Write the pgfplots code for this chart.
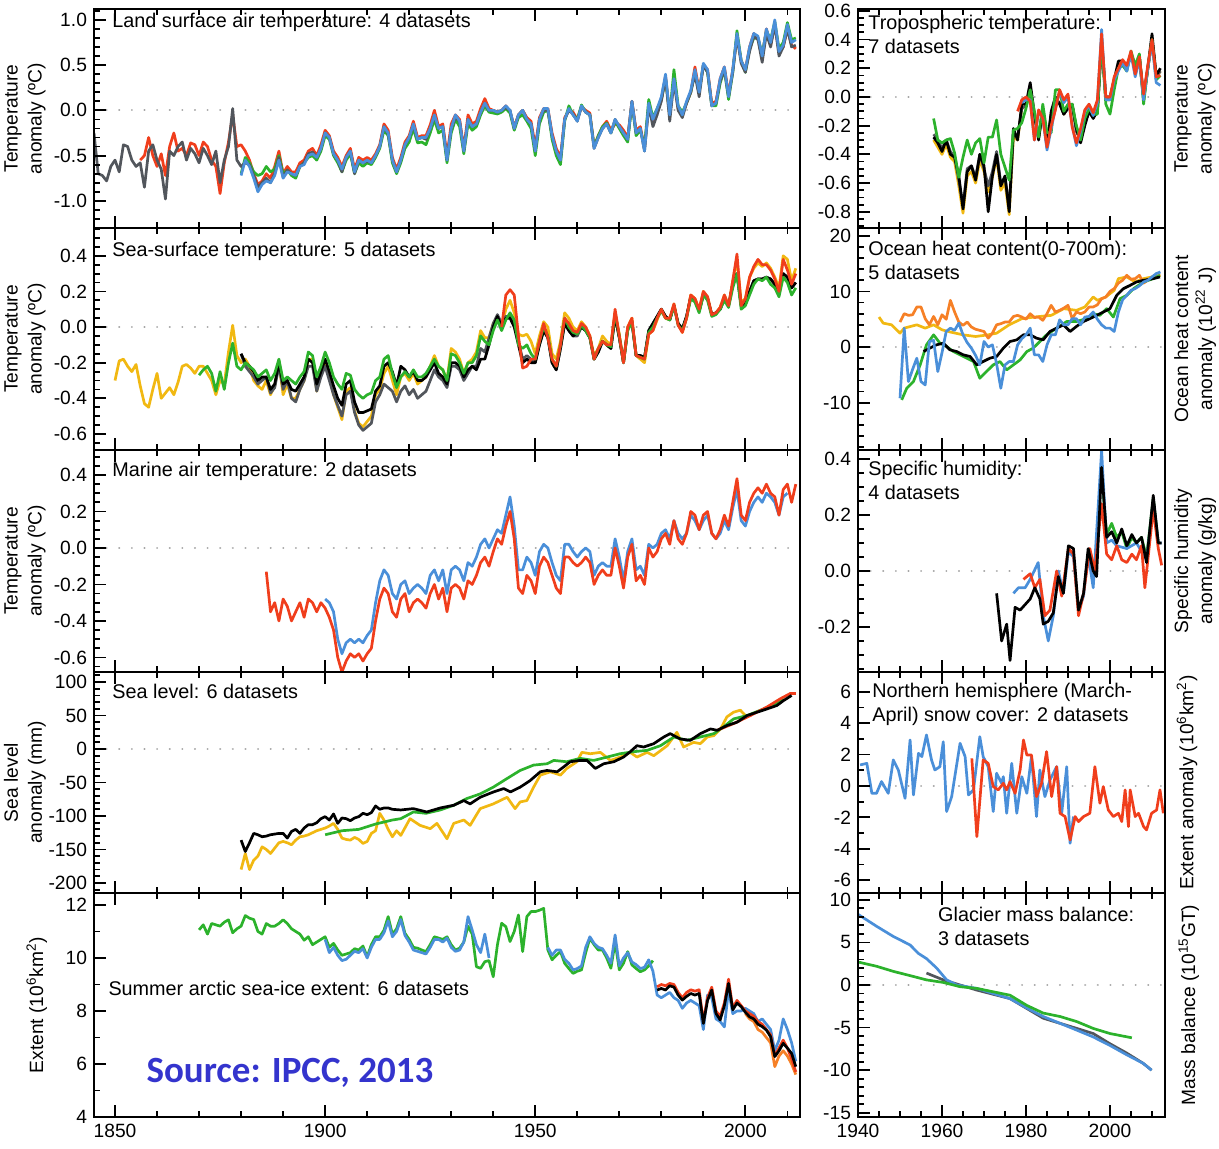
\documentclass[border=0pt]{standalone}
\usepackage{fontspec}
\setmainfont{Liberation Sans}
\newfontfamily\calibri{Carlito}
\usepackage{pgfplots}
\usepackage{pgfplotstable}
\pgfplotsset{compat=1.18}

\definecolor{sred}{RGB}{240,62,28}
\definecolor{sblue}{RGB}{74,143,217}
\definecolor{sgreen}{RGB}{44,178,44}
\definecolor{syellow}{RGB}{241,184,18}
\definecolor{sgray}{RGB}{82,86,92}
\definecolor{sorange}{RGB}{246,128,38}
\definecolor{srcblue}{RGB}{52,52,205}

\newcommand{\fs}{\fontsize{9.6}{12}\selectfont}
\newcommand{\ft}{\fontsize{9.9}{12}\selectfont}

\tikzset{ttl/.style={inner sep=0pt, font=\ft, align=left}}

\pgfplotsset{
  base/.style={
    scale only axis, axis on top,
    axis line style={line width=1.4pt},
    every tick/.style={black, line width=0.9pt},
    major tick length=6pt, minor tick length=3pt,
    tick align=inside, ytick pos=left, xtick pos=both,
    tick label style={font=\fs},
    label style={font=\fs},
    ylabel style={align=center, anchor=center},
    unbounded coords=jump,
    every axis plot/.append style={line width=1.35pt, line join=round},
  },
  leftp/.style={base, width=353pt, xmin=1845, xmax=2013,
    xtick={1850,1900,1950,2000}, minor xtick={1860,1870,...,2010}, xticklabels={,,,},
    ylabel style={at={(axis description cs:-0.0977,0.5)}}},
  rightp/.style={base, width=153.5pt, xmin=1940, xmax=2013.1,
    xtick={1940,1960,1980,2000}, minor xtick={1945,1950,...,2010}, xticklabels={,,,},
    ylabel style={at={(axis description cs:1.098,0.5)}}},
  zl/.style={gray!70, line width=1.1pt, line cap=round, dash pattern=on 0.01pt off 6.3pt},
}

% Land surface air temperature: yr, blue, green, red, grey
\pgfplotstableread{
yr B G R K
1845 nan nan nan -0.25
1846 nan nan nan -0.70
1847 nan nan nan -0.72
1848 nan nan nan -0.78
1849 nan nan nan -0.62
1850 nan nan nan -0.55
1851 nan nan nan -0.68
1852 nan nan nan -0.38
1853 nan nan nan -0.40
1854 nan nan nan -0.55
1855 nan nan nan -0.62
1856 nan nan -0.55 -0.58
1857 nan nan -0.50 -0.85
1858 nan nan -0.30 -0.45
1859 nan nan -0.50 -0.38
1860 nan nan -0.62 -0.55
1861 nan nan -0.48 -0.65
1862 nan nan -0.72 -0.98
1863 nan nan -0.40 -0.45
1864 nan nan -0.25 -0.50
1865 nan nan -0.45 -0.40
1866 nan nan -0.42 -0.35
1867 nan nan -0.50 -0.55
1868 nan nan -0.36 -0.42
1869 nan nan -0.38 -0.48
1870 nan nan -0.50 -0.58
1871 nan nan -0.35 -0.42
1872 nan nan -0.40 -0.50
1873 nan nan -0.55 -0.60
1874 nan nan -0.62 -0.45
1875 nan nan -0.92 -0.80
1876 nan nan -0.58 -0.55
1877 nan nan -0.35 -0.40
1878 nan nan -0.05 0.02
1879 nan nan -0.40 -0.55
1880 -0.72 -0.70 -0.38 -0.62
1881 -0.55 -0.52 -0.45 -0.58
1882 -0.62 -0.58 -0.55 -0.60
1883 -0.75 -0.68 -0.70 -0.72
1884 -0.90 -0.72 -0.82 -0.85
1885 -0.82 -0.70 -0.78 -0.80
1886 -0.78 -0.62 -0.70 -0.75
1887 -0.80 -0.68 -0.75 -0.80
1888 -0.72 -0.65 -0.62 -0.70
1889 -0.55 -0.50 -0.45 -0.52
1890 -0.75 -0.70 -0.70 -0.74
1891 -0.68 -0.66 -0.62 -0.66
1892 -0.70 -0.72 -0.68 -0.70
1893 -0.72 -0.75 -0.68 -0.72
1894 -0.62 -0.62 -0.58 -0.62
1895 -0.60 -0.58 -0.55 -0.58
1896 -0.50 -0.52 -0.45 -0.48
1897 -0.48 -0.50 -0.42 -0.46
1898 -0.52 -0.55 -0.50 -0.52
1899 -0.42 -0.45 -0.38 -0.42
1900 -0.25 -0.28 -0.22 -0.25
1901 -0.30 -0.32 -0.28 -0.30
1902 -0.48 -0.50 -0.45 -0.48
1903 -0.55 -0.58 -0.52 -0.55
1904 -0.65 -0.68 -0.62 -0.68
1905 -0.52 -0.55 -0.50 -0.52
1906 -0.45 -0.48 -0.42 -0.45
1907 -0.68 -0.70 -0.65 -0.70
1908 -0.55 -0.58 -0.52 -0.55
1909 -0.58 -0.62 -0.55 -0.58
1910 -0.55 -0.58 -0.52 -0.56
1911 -0.58 -0.60 -0.55 -0.58
1912 -0.50 -0.52 -0.48 -0.50
1913 -0.40 -0.42 -0.38 -0.40
1914 -0.18 -0.22 -0.15 -0.18
1915 -0.25 -0.28 -0.22 -0.26
1916 -0.55 -0.58 -0.52 -0.55
1917 -0.68 -0.70 -0.65 -0.68
1918 -0.55 -0.58 -0.52 -0.55
1919 -0.38 -0.42 -0.35 -0.38
1920 -0.30 -0.35 -0.28 -0.30
1921 -0.15 -0.20 -0.12 -0.16
1922 -0.32 -0.36 -0.30 -0.32
1923 -0.30 -0.35 -0.28 -0.30
1924 -0.30 -0.38 -0.28 -0.32
1925 -0.20 -0.25 -0.16 -0.20
1926 -0.05 -0.10 0.00 -0.06
1927 -0.20 -0.25 -0.18 -0.20
1928 -0.18 -0.22 -0.15 -0.18
1929 -0.55 -0.58 -0.50 -0.55
1930 -0.20 -0.25 -0.15 -0.20
1931 -0.05 -0.10 -0.05 -0.08
1932 -0.12 -0.18 -0.10 -0.12
1933 -0.45 -0.48 -0.42 -0.45
1934 -0.10 -0.15 -0.05 -0.10
1935 -0.18 -0.22 -0.15 -0.18
1936 -0.15 -0.18 -0.12 -0.15
1937 -0.02 -0.05 0.02 -0.02
1938 0.08 0.05 0.13 0.08
1939 0.00 -0.02 0.02 0.00
1940 0.00 -0.03 0.00 0.00
1941 -0.02 -0.04 -0.02 -0.02
1942 0.00 -0.02 0.00 0.00
1943 0.05 0.02 0.05 0.03
1944 0.00 -0.03 -0.02 0.00
1945 -0.20 -0.22 -0.18 -0.20
1946 -0.05 -0.08 -0.05 -0.05
1947 0.00 -0.05 0.00 0.00
1948 -0.10 -0.12 -0.08 -0.10
1949 -0.15 -0.20 -0.12 -0.15
1950 -0.45 -0.50 -0.40 -0.45
1951 -0.10 -0.15 -0.08 -0.10
1952 0.02 -0.02 0.02 0.00
1953 0.02 0.00 0.02 0.00
1954 -0.28 -0.32 -0.25 -0.28
1955 -0.45 -0.50 -0.42 -0.45
1956 -0.55 -0.60 -0.52 -0.55
1957 -0.10 -0.12 -0.08 -0.10
1958 0.02 0.05 0.00 0.00
1959 -0.05 -0.05 -0.02 -0.04
1960 -0.12 -0.10 -0.10 -0.12
1961 0.05 0.06 0.04 0.04
1962 -0.02 -0.02 0.00 -0.02
1963 -0.05 -0.05 -0.03 -0.05
1964 -0.42 -0.40 -0.40 -0.42
1965 -0.30 -0.28 -0.28 -0.30
1966 -0.20 -0.18 -0.18 -0.20
1967 -0.15 -0.14 -0.12 -0.15
1968 -0.25 -0.25 -0.22 -0.25
1969 -0.10 -0.12 -0.15 -0.10
1970 -0.18 -0.20 -0.16 -0.18
1971 -0.25 -0.28 -0.22 -0.25
1972 -0.32 -0.35 -0.30 -0.32
1973 0.10 0.08 0.10 0.10
1974 -0.25 -0.28 -0.22 -0.25
1975 -0.20 -0.22 -0.18 -0.20
1976 -0.45 -0.40 -0.42 -0.45
1977 0.08 0.12 0.05 0.05
1978 -0.10 -0.08 -0.12 -0.18
1979 0.02 0.02 0.00 -0.05
1980 0.15 0.12 0.12 0.10
1981 0.40 0.35 0.38 0.36
1982 -0.05 -0.05 -0.05 -0.12
1983 0.35 0.45 0.35 0.32
1984 0.05 0.05 0.02 0.00
1985 -0.05 -0.02 -0.05 -0.08
1986 0.10 0.08 0.08 0.08
1987 0.22 0.20 0.20 0.20
1988 0.45 0.42 0.48 0.40
1989 0.20 0.20 0.22 0.15
1990 0.52 0.50 0.50 0.50
1991 0.45 0.42 0.45 0.42
1992 0.05 0.05 0.08 0.05
1993 0.08 0.05 0.10 0.08
1994 0.35 0.30 0.35 0.32
1995 0.48 0.45 0.48 0.45
1996 0.15 0.12 0.18 0.15
1997 0.45 0.42 0.45 0.42
1998 0.85 0.88 0.82 0.82
1999 0.55 0.55 0.55 0.52
2000 0.45 0.42 0.45 0.42
2001 0.70 0.68 0.70 0.65
2002 0.85 0.80 0.85 0.82
2003 0.82 0.80 0.80 0.78
2004 0.60 0.62 0.60 0.53
2005 0.90 0.88 0.90 0.85
2006 0.75 0.78 0.72 0.70
2007 1.00 0.98 0.95 0.95
2008 0.65 0.68 0.65 0.60
2009 0.72 0.75 0.70 0.70
2010 0.95 0.97 0.90 0.90
2011 0.75 0.78 0.72 0.70
2012 0.78 0.80 0.68 0.72
}\landT

% Sea-surface temperature: yr, yellow, green, black, grey, red
\pgfplotstableread{
yr Y G K D R
1850 -0.30 nan nan nan nan
1851 -0.19 nan nan nan nan
1852 -0.18 nan nan nan nan
1853 -0.22 nan nan nan nan
1854 -0.25 nan nan nan nan
1855 -0.21 nan nan nan nan
1856 -0.33 nan nan nan nan
1857 -0.43 nan nan nan nan
1858 -0.45 nan nan nan nan
1859 -0.35 nan nan nan nan
1860 -0.26 nan nan nan nan
1861 -0.40 nan nan nan nan
1862 -0.37 nan nan nan nan
1863 -0.34 nan nan nan nan
1864 -0.38 nan nan nan nan
1865 -0.31 nan nan nan nan
1866 -0.22 nan nan nan nan
1867 -0.21 nan nan nan nan
1868 -0.23 nan nan nan nan
1869 -0.26 nan nan nan nan
1870 -0.22 -0.27 nan nan nan
1871 -0.22 -0.24 nan nan nan
1872 -0.26 -0.22 nan nan nan
1873 -0.30 -0.26 nan nan nan
1874 -0.38 -0.36 nan nan nan
1875 -0.30 -0.25 nan nan nan
1876 -0.32 -0.35 nan nan nan
1877 -0.14 -0.20 nan nan nan
1878 0.01 -0.09 nan nan nan
1879 -0.16 -0.22 nan nan nan
1880 -0.20 -0.24 -0.15 -0.15 nan
1881 -0.18 -0.20 -0.20 -0.22 nan
1882 -0.22 -0.22 -0.22 -0.25 nan
1883 -0.30 -0.24 -0.25 -0.28 nan
1884 -0.33 -0.28 -0.30 -0.32 nan
1885 -0.35 -0.26 -0.28 -0.30 nan
1886 -0.30 -0.24 -0.28 -0.28 nan
1887 -0.38 -0.30 -0.35 -0.37 nan
1888 -0.33 -0.26 -0.32 -0.34 nan
1889 -0.20 -0.18 -0.20 -0.22 nan
1890 -0.38 -0.30 -0.32 -0.35 nan
1891 -0.32 -0.28 -0.30 -0.30 nan
1892 -0.40 -0.30 -0.35 -0.40 nan
1893 -0.40 -0.32 -0.36 -0.42 nan
1894 -0.35 -0.28 -0.32 -0.35 nan
1895 -0.30 -0.25 -0.28 -0.30 nan
1896 -0.18 -0.14 -0.18 -0.22 nan
1897 -0.18 -0.16 -0.20 -0.22 nan
1898 -0.36 -0.28 -0.32 -0.36 nan
1899 -0.26 -0.22 -0.25 -0.28 nan
1900 -0.20 -0.14 -0.18 -0.22 nan
1901 -0.28 -0.20 -0.25 -0.30 nan
1902 -0.38 -0.28 -0.33 -0.38 nan
1903 -0.45 -0.32 -0.40 -0.44 nan
1904 -0.52 -0.35 -0.44 -0.50 nan
1905 -0.36 -0.26 -0.32 -0.38 nan
1906 -0.34 -0.27 -0.30 -0.36 nan
1907 -0.47 -0.35 -0.42 -0.48 nan
1908 -0.54 -0.38 -0.48 -0.55 nan
1909 -0.56 -0.40 -0.48 -0.58 nan
1910 -0.53 -0.38 -0.47 -0.56 nan
1911 -0.50 -0.37 -0.46 -0.54 nan
1912 -0.38 -0.30 -0.36 -0.42 nan
1913 -0.35 -0.28 -0.33 -0.38 nan
1914 -0.26 -0.18 -0.22 -0.32 nan
1915 -0.22 -0.16 -0.20 -0.34 nan
1916 -0.30 -0.26 -0.25 -0.36 nan
1917 -0.38 -0.34 -0.33 -0.42 nan
1918 -0.28 -0.28 -0.22 -0.36 nan
1919 -0.26 -0.25 -0.24 -0.33 nan
1920 -0.30 -0.28 -0.28 -0.38 nan
1921 -0.26 -0.24 -0.25 -0.35 nan
1922 -0.32 -0.28 -0.30 -0.40 nan
1923 -0.30 -0.28 -0.30 -0.38 nan
1924 -0.28 -0.26 -0.28 -0.36 nan
1925 -0.22 -0.22 -0.24 -0.30 nan
1926 -0.16 -0.18 -0.20 -0.24 nan
1927 -0.22 -0.22 -0.26 -0.28 nan
1928 -0.24 -0.24 -0.28 -0.30 nan
1929 -0.30 -0.30 -0.32 -0.34 nan
1930 -0.12 -0.15 -0.20 -0.22 nan
1931 -0.14 -0.16 -0.20 -0.22 nan
1932 -0.18 -0.20 -0.22 -0.24 nan
1933 -0.26 -0.26 -0.28 -0.30 nan
1934 -0.20 -0.20 -0.24 -0.26 nan
1935 -0.18 -0.20 -0.22 -0.22 nan
1936 -0.14 -0.16 -0.24 -0.22 nan
1937 -0.02 -0.05 -0.18 -0.12 nan
1938 -0.06 -0.08 -0.18 -0.14 nan
1939 -0.06 -0.10 -0.10 -0.06 nan
1940 0.02 -0.02 0.00 0.02 nan
1941 0.06 0.04 0.06 0.07 nan
1942 0.00 -0.02 0.00 0.02 0.00
1943 0.10 0.04 0.05 0.06 0.18
1944 0.15 0.08 0.05 0.06 0.21
1945 0.08 0.04 0.00 0.02 0.18
1946 -0.04 -0.10 -0.10 -0.08 -0.05
1947 -0.05 -0.12 -0.20 -0.18 -0.23
1948 -0.04 -0.10 -0.18 -0.16 -0.22
1949 -0.08 -0.15 -0.20 -0.18 -0.18
1950 -0.15 -0.18 -0.20 -0.20 -0.18
1951 -0.05 -0.08 -0.10 -0.10 -0.08
1952 0.03 0.00 -0.02 -0.02 0.02
1953 0.00 -0.05 -0.06 -0.06 -0.06
1954 -0.15 -0.18 -0.20 -0.20 -0.18
1955 -0.18 -0.22 -0.24 -0.24 -0.22
1956 -0.08 -0.10 -0.12 -0.12 -0.10
1957 0.08 0.05 0.02 0.02 0.05
1958 0.05 0.00 -0.02 -0.02 0.02
1959 0.00 -0.03 -0.05 -0.05 -0.02
1960 -0.02 -0.04 -0.03 -0.05 -0.03
1961 0.03 0.01 0.00 0.00 0.02
1962 0.00 -0.02 -0.02 -0.02 0.00
1963 -0.05 -0.06 -0.06 -0.06 -0.05
1964 -0.16 -0.18 -0.18 -0.18 -0.18
1965 -0.12 -0.12 -0.14 -0.14 -0.12
1966 -0.05 -0.08 -0.08 -0.08 -0.08
1967 -0.08 -0.10 -0.10 -0.10 -0.10
1968 -0.10 -0.11 -0.12 -0.12 -0.10
1969 0.08 0.08 0.06 0.06 0.10
1970 -0.04 -0.05 -0.06 -0.06 -0.05
1971 -0.20 -0.20 -0.20 -0.20 -0.20
1972 0.00 -0.02 -0.01 -0.01 0.00
1973 0.05 0.03 0.03 0.03 0.05
1974 -0.16 -0.16 -0.16 -0.16 -0.16
1975 -0.18 -0.17 -0.16 -0.16 -0.17
1976 -0.20 -0.18 -0.17 -0.17 -0.18
1977 -0.04 -0.03 -0.02 -0.02 -0.04
1978 -0.02 0.00 0.02 0.02 -0.02
1979 0.04 0.05 0.06 0.06 0.05
1980 0.10 0.09 0.10 0.10 0.10
1981 0.05 0.05 0.06 0.06 0.05
1982 0.04 0.04 0.04 0.04 0.05
1983 0.13 0.12 0.12 0.12 0.13
1984 0.02 0.01 0.02 0.02 0.01
1985 -0.03 -0.02 -0.01 -0.01 -0.03
1986 0.05 0.05 0.06 0.06 0.05
1987 0.18 0.16 0.17 0.17 0.18
1988 0.16 0.14 0.15 0.15 0.16
1989 0.10 0.08 0.09 0.09 0.10
1990 0.20 0.18 0.18 0.18 0.20
1991 0.17 0.15 0.16 0.16 0.17
1992 0.07 0.06 0.07 0.07 0.07
1993 0.08 0.07 0.08 0.08 0.08
1994 0.11 0.10 0.10 0.10 0.11
1995 0.18 0.15 0.16 0.16 0.18
1996 0.12 0.11 0.12 0.12 0.12
1997 0.26 0.22 0.24 0.24 0.26
1998 0.38 0.30 0.30 0.30 0.41
1999 0.14 0.10 0.12 0.12 0.12
2000 0.16 0.12 0.13 0.13 0.16
2001 0.28 0.18 0.20 0.20 0.28
2002 0.33 0.24 0.26 0.26 0.34
2003 0.36 0.27 0.27 0.27 0.38
2004 0.34 0.26 0.27 0.27 0.35
2005 0.36 0.28 0.28 0.28 0.35
2006 0.33 0.24 0.27 0.27 0.32
2007 0.28 0.22 0.24 0.24 0.27
2008 0.22 0.17 0.20 0.20 0.20
2009 0.40 0.28 0.30 0.30 0.38
2010 0.38 0.25 0.28 0.28 0.32
2011 0.26 0.18 0.22 0.22 0.24
2012 0.33 0.22 0.25 0.25 0.30
}\sstT

% Marine air temperature: yr, red, blue
\pgfplotstableread{
yr R B
1886 -0.13 nan
1887 -0.35 nan
1888 -0.30 nan
1889 -0.40 nan
1890 -0.28 nan
1891 -0.32 nan
1892 -0.40 nan
1893 -0.35 nan
1894 -0.30 nan
1895 -0.38 nan
1896 -0.28 nan
1897 -0.30 nan
1898 -0.35 nan
1899 -0.30 nan
1900 -0.33 -0.28
1901 -0.38 -0.30
1902 -0.45 -0.35
1903 -0.60 -0.50
1904 -0.68 -0.58
1905 -0.62 -0.52
1906 -0.58 -0.50
1907 -0.60 -0.52
1908 -0.58 -0.50
1909 -0.62 -0.52
1910 -0.58 -0.48
1911 -0.55 -0.45
1912 -0.40 -0.30
1913 -0.28 -0.18
1914 -0.22 -0.12
1915 -0.25 -0.15
1916 -0.35 -0.25
1917 -0.38 -0.28
1918 -0.28 -0.20
1919 -0.25 -0.18
1920 -0.35 -0.25
1921 -0.30 -0.22
1922 -0.28 -0.20
1923 -0.30 -0.22
1924 -0.33 -0.25
1925 -0.25 -0.15
1926 -0.20 -0.12
1927 -0.28 -0.18
1928 -0.22 -0.12
1929 -0.35 -0.25
1930 -0.22 -0.12
1931 -0.20 -0.10
1932 -0.22 -0.12
1933 -0.28 -0.18
1934 -0.18 -0.08
1935 -0.20 -0.10
1936 -0.15 -0.05
1937 -0.08 0.02
1938 -0.05 0.05
1939 -0.10 0.00
1940 -0.02 0.05
1941 0.05 0.10
1942 0.02 0.08
1943 0.12 0.18
1944 0.20 0.28
1945 0.05 0.12
1946 -0.22 -0.12
1947 -0.25 -0.12
1948 -0.15 -0.05
1949 -0.18 -0.08
1950 -0.25 -0.15
1951 -0.10 -0.02
1952 -0.05 0.02
1953 -0.08 0.00
1954 -0.15 -0.08
1955 -0.22 -0.15
1956 -0.25 -0.18
1957 -0.05 0.02
1958 -0.05 0.02
1959 -0.08 -0.02
1960 -0.10 -0.05
1961 -0.08 -0.02
1962 -0.05 0.00
1963 -0.08 -0.02
1964 -0.20 -0.15
1965 -0.15 -0.10
1966 -0.12 -0.08
1967 -0.15 -0.10
1968 -0.15 -0.10
1969 0.00 0.05
1970 -0.10 -0.05
1971 -0.22 -0.18
1972 -0.05 -0.02
1973 0.02 0.05
1974 -0.18 -0.12
1975 -0.15 -0.10
1976 -0.20 -0.15
1977 0.00 0.02
1978 -0.05 0.00
1979 -0.02 0.02
1980 0.05 0.08
1981 0.08 0.10
1982 0.02 0.05
1983 0.15 0.15
1984 0.05 0.08
1985 0.02 0.05
1986 0.08 0.08
1987 0.20 0.18
1988 0.18 0.15
1989 0.10 0.10
1990 0.18 0.15
1991 0.20 0.18
1992 0.08 0.08
1993 0.05 0.05
1994 0.10 0.08
1995 0.18 0.15
1996 0.12 0.10
1997 0.25 0.22
1998 0.38 0.32
1999 0.18 0.15
2000 0.15 0.12
2001 0.25 0.20
2002 0.30 0.25
2003 0.33 0.28
2004 0.30 0.25
2005 0.35 0.30
2006 0.30 0.28
2007 0.28 0.25
2008 0.18 0.18
2009 0.32 0.28
2010 0.35 0.30
2011 0.25 nan
2012 0.35 nan
}\matT

% Summer arctic sea-ice extent: yr, green, blue, red, black, orange
\pgfplotstableread{
yr G B R K O
1870 11.06 nan nan nan nan
1871 11.25 nan nan nan nan
1872 10.90 nan nan nan nan
1873 11.30 nan nan nan nan
1874 11.25 nan nan nan nan
1875 11.20 nan nan nan nan
1876 11.35 nan nan nan nan
1877 11.44 nan nan nan nan
1878 10.95 nan nan nan nan
1879 11.10 nan nan nan nan
1880 11.20 nan nan nan nan
1881 11.60 nan nan nan nan
1882 11.50 nan nan nan nan
1883 11.45 nan nan nan nan
1884 11.00 nan nan nan nan
1885 10.90 nan nan nan nan
1886 11.30 nan nan nan nan
1887 11.20 nan nan nan nan
1888 11.20 nan nan nan nan
1889 11.30 nan nan nan nan
1890 11.44 nan nan nan nan
1891 11.30 nan nan nan nan
1892 11.10 nan nan nan nan
1893 11.00 nan nan nan nan
1894 10.90 nan nan nan nan
1895 10.67 nan nan nan nan
1896 10.80 nan nan nan nan
1897 10.50 nan nan nan nan
1898 10.60 nan nan nan nan
1899 10.70 nan nan nan nan
1900 10.80 10.70 nan nan nan
1901 10.40 10.20 nan nan nan
1902 10.55 10.40 nan nan nan
1903 10.30 10.10 nan nan nan
1904 10.10 9.90 nan nan nan
1905 10.15 9.95 nan nan nan
1906 10.20 10.10 nan nan nan
1907 10.35 10.25 nan nan nan
1908 10.30 10.20 nan nan nan
1909 10.45 10.35 nan nan nan
1910 10.05 10.00 nan nan nan
1911 10.50 10.40 nan nan nan
1912 10.80 10.70 nan nan nan
1913 10.80 10.70 nan nan nan
1914 11.05 10.95 nan nan nan
1915 11.56 11.40 nan nan nan
1916 10.90 10.80 nan nan nan
1917 11.10 11.00 nan nan nan
1918 11.56 11.45 nan nan nan
1919 10.93 10.85 nan nan nan
1920 10.70 10.60 nan nan nan
1921 10.40 10.30 nan nan nan
1922 10.37 10.25 nan nan nan
1923 10.30 10.20 nan nan nan
1924 10.24 10.15 nan nan nan
1925 10.50 10.40 nan nan nan
1926 10.80 10.70 nan nan nan
1927 10.75 10.70 nan nan nan
1928 10.70 10.60 nan nan nan
1929 10.80 10.75 nan nan nan
1930 10.50 10.40 nan nan nan
1931 10.30 10.25 nan nan nan
1932 10.37 10.30 nan nan nan
1933 10.60 10.60 nan nan nan
1934 11.20 11.56 nan nan nan
1935 10.90 11.05 nan nan nan
1936 9.67 10.50 nan nan nan
1937 9.61 10.20 nan nan nan
1938 9.86 10.90 nan nan nan
1939 9.90 10.00 nan nan nan
1940 9.29 nan nan nan nan
1941 10.50 nan nan nan nan
1942 11.31 nan nan nan nan
1943 11.18 nan nan nan nan
1944 10.62 nan nan nan nan
1945 11.00 nan nan nan nan
1946 11.62 nan nan nan nan
1947 10.24 nan nan nan nan
1948 11.56 nan nan nan nan
1949 11.75 nan nan nan nan
1950 11.75 nan nan nan nan
1951 11.80 nan nan nan nan
1952 11.87 nan nan nan nan
1953 10.30 10.40 nan nan nan
1954 9.93 10.10 nan nan nan
1955 10.10 10.30 nan nan nan
1956 10.24 10.30 nan nan nan
1957 9.80 9.95 nan nan nan
1958 9.60 9.80 nan nan nan
1959 9.42 9.55 nan nan nan
1960 9.50 9.60 nan nan nan
1961 9.55 9.70 nan nan nan
1962 10.20 10.40 nan nan nan
1963 10.74 10.80 nan nan nan
1964 10.50 10.55 nan nan nan
1965 10.30 10.40 nan nan nan
1966 10.30 10.35 nan nan nan
1967 10.00 10.10 nan nan nan
1968 9.61 9.80 nan nan nan
1969 10.60 10.87 nan nan nan
1970 9.55 9.70 nan nan nan
1971 9.80 10.00 nan nan nan
1972 10.24 10.20 nan nan nan
1973 9.74 9.85 nan nan nan
1974 9.60 9.75 nan nan nan
1975 9.48 9.60 nan nan nan
1976 9.55 9.65 nan nan nan
1977 9.70 9.93 nan nan nan
1978 9.90 9.50 nan nan nan
1979 nan 8.60 8.91 8.79 nan
1980 nan 8.50 9.00 8.85 nan
1981 nan 8.60 8.95 8.79 nan
1982 nan 8.70 9.04 8.95 nan
1983 nan 8.50 9.00 8.90 nan
1984 nan 8.40 8.70 8.60 nan
1985 nan 8.10 8.50 8.41 nan
1986 nan 8.30 8.70 8.55 nan
1987 nan 8.40 8.80 8.66 nan
1988 nan 8.30 8.75 8.60 nan
1989 nan 8.20 8.80 8.66 nan
1990 nan 7.30 7.60 7.53 nan
1991 nan 8.60 8.50 8.40 nan
1992 nan 8.50 8.90 8.79 nan
1993 nan 7.70 8.00 7.91 nan
1994 nan 7.60 7.80 7.66 nan
1995 nan 7.40 8.30 8.20 nan
1996 nan 8.80 9.20 9.04 nan
1997 nan 7.90 8.10 8.04 nan
1998 nan 8.00 8.40 8.30 nan
1999 nan 8.00 8.20 8.16 nan
2000 nan 8.10 8.00 7.95 7.90
2001 nan 8.00 7.90 7.78 7.70
2002 nan 7.90 7.80 7.70 7.60
2003 nan 7.60 7.60 7.50 7.30
2004 nan 7.70 7.50 7.41 7.20
2005 nan 7.50 7.30 7.28 7.00
2006 nan 7.30 7.10 7.03 6.80
2007 nan 6.50 6.30 6.28 5.90
2008 nan 6.90 6.60 6.50 6.30
2009 nan 7.70 6.90 6.78 6.50
2010 nan 7.30 6.60 6.60 6.30
2011 nan 6.80 6.20 6.40 6.00
2012 nan 6.10 5.70 5.90 5.60
}\iceT

% Tropospheric temperature: yr, black, grey, yellow, green, blue, red
\pgfplotstableread{
yr K D Y G B R
1958 -0.28 -0.26 -0.30 -0.15 nan nan
1959 -0.32 -0.30 -0.35 -0.30 nan nan
1960 -0.38 -0.36 -0.40 -0.32 nan nan
1961 -0.30 -0.30 -0.33 -0.30 nan nan
1962 -0.40 -0.38 -0.42 -0.29 nan nan
1963 -0.42 -0.42 -0.45 -0.39 nan nan
1964 -0.55 -0.58 -0.62 -0.56 nan nan
1965 -0.78 -0.76 -0.81 -0.42 nan nan
1966 -0.52 -0.50 -0.55 -0.30 nan nan
1967 -0.48 -0.48 -0.52 -0.40 nan nan
1968 -0.58 -0.56 -0.60 -0.32 nan nan
1969 -0.40 -0.40 -0.44 -0.29 nan nan
1970 -0.48 -0.50 -0.52 -0.46 nan nan
1971 -0.80 -0.62 -0.66 -0.28 nan nan
1972 -0.55 -0.52 -0.56 -0.28 nan nan
1973 -0.40 -0.38 -0.42 -0.16 nan nan
1974 -0.62 -0.60 -0.65 -0.40 nan nan
1975 -0.55 -0.56 -0.60 -0.49 nan nan
1976 -0.80 -0.78 -0.82 -0.58 nan nan
1977 -0.22 -0.25 -0.28 -0.23 nan nan
1978 -0.30 -0.28 -0.30 -0.22 nan -0.10
1979 -0.05 -0.08 -0.08 -0.18 -0.04 -0.02
1980 -0.05 -0.06 -0.06 -0.08 -0.02 0.00
1981 0.10 0.06 0.05 0.05 -0.02 -0.03
1982 -0.12 -0.14 -0.14 -0.10 -0.30 -0.30
1983 -0.30 -0.28 -0.28 -0.28 -0.10 -0.09
1984 -0.08 -0.10 -0.10 -0.05 -0.15 -0.15
1985 -0.35 -0.34 -0.34 -0.25 -0.37 -0.35
1986 -0.10 -0.12 -0.12 -0.25 -0.22 -0.20
1987 0.00 -0.02 -0.02 0.05 -0.08 -0.09
1988 -0.05 -0.04 -0.04 0.05 0.04 0.05
1989 -0.12 -0.12 -0.12 -0.10 -0.04 -0.02
1990 -0.08 -0.06 -0.06 -0.05 0.00 0.02
1991 -0.05 -0.06 -0.06 -0.05 -0.20 -0.21
1992 -0.22 -0.24 -0.24 -0.20 -0.34 -0.32
1993 -0.32 -0.30 -0.30 -0.30 -0.24 -0.22
1994 -0.20 -0.18 -0.18 -0.15 -0.10 -0.09
1995 -0.10 -0.10 -0.10 -0.08 -0.06 -0.05
1996 -0.15 -0.14 -0.14 -0.12 -0.13 -0.11
1997 -0.10 -0.10 -0.10 -0.12 -0.04 -0.02
1998 0.40 0.38 0.38 0.40 0.47 0.44
1999 0.00 -0.02 -0.02 -0.05 -0.02 0.00
2000 0.00 -0.02 -0.02 -0.12 -0.02 0.00
2001 0.12 0.10 0.10 0.05 0.12 0.14
2002 0.25 0.22 0.22 0.20 0.18 0.20
2003 0.25 0.24 0.24 0.22 0.24 0.26
2004 0.20 0.20 0.20 0.18 0.18 0.22
2005 0.30 0.30 0.30 0.32 0.30 0.32
2006 0.22 0.20 0.20 0.22 0.14 0.16
2007 0.28 0.28 0.28 0.30 0.26 0.28
2008 0.00 -0.02 -0.02 -0.05 -0.02 0.02
2009 0.20 0.20 0.20 0.20 0.20 0.22
2010 0.44 0.40 0.40 0.40 0.38 0.40
2011 0.15 0.14 0.14 0.12 0.10 0.14
2012 0.20 0.18 0.18 0.15 0.08 0.15
}\tropT

\begin{document}
\begin{tikzpicture}
\useasboundingbox (0,0) rectangle (609.5pt,-574.5pt);

% ---------------- left column ----------------
\begin{axis}[leftp, at={(47pt,-114pt)}, anchor=south west, height=109.5pt,
  ymin=-1.30, ymax=1.12, ytick={-1,-0.5,0,0.5,1}, yticklabels={-1.0,-0.5,0.0,0.5,1.0},
  minor ytick={-1.2,-1.1,...,1.1}, ylabel={Temperature\\anomaly (ºC)}]
\addplot[zl] coordinates {(1845,0) (2013,0)};
\addplot[sred] table[x=yr,y=R] {\landT};
\addplot[sgreen] table[x=yr,y=G] {\landT};
\addplot[sgray] table[x=yr,y=K] {\landT};
\addplot[sblue] table[x=yr,y=B] {\landT};
\node[ttl,anchor=west] at (rel axis cs:0.0255,0.94) {Land surface air temperature: 4 datasets};
\end{axis}

\begin{axis}[leftp, at={(47pt,-225pt)}, anchor=south west, height=111pt,
  ymin=-0.69, ymax=0.556, ytick={-0.6,-0.4,...,0.41}, yticklabels={-0.6,-0.4,-0.2,0.0,0.2,0.4},
  minor ytick={-0.65,-0.6,...,0.55}, ylabel={Temperature\\anomaly (ºC)}]
\addplot[zl] coordinates {(1845,0) (2013,0)};
\addplot[syellow] table[x=yr,y=Y] {\sstT};
\addplot[sgray] table[x=yr,y=D] {\sstT};
\addplot[black] table[x=yr,y=K] {\sstT};
\addplot[sgreen] table[x=yr,y=G] {\sstT};
\addplot[sred] table[x=yr,y=R] {\sstT};
\node[ttl,anchor=west] at (rel axis cs:0.0255,0.896) {Sea-surface temperature: 5 datasets};
\end{axis}

\begin{axis}[leftp, at={(47pt,-336pt)}, anchor=south west, height=111pt,
  ymin=-0.68, ymax=0.537, ytick={-0.6,-0.4,...,0.41}, yticklabels={-0.6,-0.4,-0.2,0.0,0.2,0.4},
  minor ytick={-0.65,-0.6,...,0.5}, ylabel={Temperature\\anomaly (ºC)}]
\addplot[zl] coordinates {(1845,0) (2013,0)};
\addplot[sblue] table[x=yr,y=B] {\matT};
\addplot[sred] table[x=yr,y=R] {\matT};
\node[ttl,anchor=west] at (rel axis cs:0.0255,0.905) {Marine air temperature: 2 datasets};
\end{axis}

\begin{axis}[leftp, at={(47pt,-446.5pt)}, anchor=south west, height=110.5pt,
  ymin=-215, ymax=115, ytick={-200,-150,...,100}, yticklabels={-200,-150,-100,-50,0,50,100},
  minor ytick={-210,-200,...,110}, ylabel={Sea level\\anomaly (mm)}]
\addplot[zl] coordinates {(1845,0) (2013,0)};
\addplot[syellow] coordinates {(1880,-180) (1881,-156) (1882,-180) (1883,-166) (1884,-160) (1885,-146) (1886,-150) (1887,-156) (1888,-148) (1889,-140) (1890,-138) (1891,-140) (1892,-143) (1893,-136) (1894,-131) (1895,-130) (1896,-128) (1897,-125) (1898,-122) (1899,-120) (1900,-118) (1901,-115) (1902,-111) (1903,-120) (1904,-133) (1905,-135) (1906,-136) (1907,-132) (1908,-135) (1909,-141) (1910,-138) (1911,-126) (1912,-122) (1913,-96) (1914,-106) (1915,-120) (1916,-131) (1917,-122) (1918,-129) (1920.2,-104) (1922.6,-114) (1925,-119) (1926.6,-111) (1929,-134) (1930.6,-111) (1933,-106) (1934.5,-114) (1936.9,-89) (1940,-82) (1943.3,-72) (1945.2,-89) (1946.4,-79) (1948,-77) (1949.6,-57) (1951.2,-39) (1953.6,-34) (1956,-39) (1957.5,-29) (1959.9,-19) (1961.1,-5) (1963.1,-7) (1965.5,-5) (1967.9,-17) (1970.2,-12) (1972.6,-5) (1974.2,-12) (1976.6,-5) (1978.2,-10) (1981.4,5) (1983.7,25) (1985.3,3) (1987.7,10) (1989.3,8) (1990.9,18) (1992.5,20) (1994.1,30) (1995.6,48) (1997.2,55) (1998.8,58) (2000,50)};
\addplot[sgreen] coordinates {(1900,-128) (1904,-122) (1908,-120) (1912,-112) (1916,-106) (1918,-104) (1921,-94) (1924,-96) (1927.4,-91) (1930.6,-84) (1933.7,-74) (1936.9,-67) (1940,-57) (1943.3,-44) (1946.4,-32) (1949.6,-24) (1952.8,-22) (1954.4,-17) (1957.5,-19) (1960.7,-14) (1963.9,-17) (1967.1,-12) (1970.2,-7) (1973.4,-4) (1976.6,-2) (1979.8,5) (1983,18) (1986.1,13) (1989.3,18) (1992.5,23) (1994.8,33) (1997.2,45) (2000.4,50) (2003.6,58) (2006.7,65) (2009.1,75)};
\addplot[sred] coordinates {(1993.3,28) (1997.2,38) (2001.2,50) (2005.2,63) (2008.3,75) (2010.7,83) (2012,83)};
\addplot[black] coordinates {(1880,-136) (1881,-153) (1882,-140) (1883,-126) (1884,-128) (1885,-131) (1886,-130) (1887,-128) (1888,-127) (1889,-126) (1890,-126) (1891,-133) (1892,-123) (1893,-120) (1894,-126) (1895,-118) (1896,-113) (1897,-113) (1898,-110) (1899,-104) (1900,-101) (1901,-106) (1902,-97) (1903,-111) (1904,-103) (1905,-104) (1906,-107) (1907,-103) (1908,-101) (1909,-96) (1910,-98) (1911,-95) (1912,-85) (1913,-90) (1914,-88) (1915,-88) (1916,-90) (1918,-91) (1921,-89) (1924.2,-94) (1927.4,-88) (1930.6,-84) (1933,-77) (1934.5,-82) (1936.9,-72) (1940.1,-64) (1942.5,-59) (1944.1,-64) (1946.4,-57) (1948.8,-47) (1951.2,-34) (1952.8,-32) (1955.2,-34) (1956.7,-27) (1958.3,-19) (1960.7,-17) (1962.3,-17) (1964.3,-29) (1966.3,-22) (1968.7,-19) (1971,-12) (1972.6,-4) (1974.2,5) (1975.8,3) (1978.2,8) (1980.6,18) (1982.1,23) (1984.5,15) (1986.9,13) (1989.3,23) (1991.7,30) (1993.3,28) (1995.6,35) (1998,40) (2000.4,50) (2002.8,55) (2005.2,60) (2007.5,65) (2009,72) (2011,80)};
\node[ttl,anchor=west] at (rel axis cs:0.0255,0.914) {Sea level: 6 datasets};
\end{axis}

\begin{axis}[leftp, at={(47pt,-558.5pt)}, anchor=south west, height=112pt,
  ymin=4, ymax=12.45, ytick={4,6,8,10,12}, yticklabels={4,6,8,10,12},
  minor ytick={5,7,9,11}, xticklabels={1850,1900,1950,2000},
  ylabel={Extent (10\textsuperscript{6}km\textsuperscript{2})},
  ylabel style={at={(axis description cs:-0.081,0.5)}}]
\addplot[sgreen] table[x=yr,y=G] {\iceT};
\addplot[sblue] table[x=yr,y=B] {\iceT};
\addplot[sorange] table[x=yr,y=O] {\iceT};
\addplot[sred] table[x=yr,y=R] {\iceT};
\addplot[black] table[x=yr,y=K] {\iceT};
\node[ttl,anchor=west] at (rel axis cs:0.02,0.576) {Summer arctic sea-ice extent: 6 datasets};
\end{axis}

% ---------------- right column ----------------
\begin{axis}[rightp, at={(429pt,-114pt)}, anchor=south west, height=109.5pt,
  ymin=-0.913, ymax=0.613, ytick={-0.8,-0.6,...,0.61}, yticklabels={-0.8,-0.6,-0.4,-0.2,0.0,0.2,0.4,0.6},
  minor ytick={-0.9,-0.85,...,0.6}, ylabel={Temperature\\anomaly (ºC)}]
\addplot[zl] coordinates {(1940,0) (2013.1,0)};
\addplot[syellow] table[x=yr,y=Y] {\tropT};
\addplot[sgray] table[x=yr,y=D] {\tropT};
\addplot[black] table[x=yr,y=K] {\tropT};
\addplot[sgreen] table[x=yr,y=G] {\tropT};
\addplot[sblue] table[x=yr,y=B] {\tropT};
\addplot[sred] table[x=yr,y=R] {\tropT};
\node[ttl,anchor=north west] at (rel axis cs:0.0326,0.975) {Tropospheric temperature:\\7 datasets};
\end{axis}

\begin{axis}[rightp, at={(429pt,-225pt)}, anchor=south west, height=111pt,
  ymin=-18.5, ymax=21.4, ytick={-10,0,10,20}, yticklabels={-10,0,10,20},
  minor ytick={-18,-16,...,20}, ylabel={Ocean heat content\\anomaly (10\textsuperscript{22} J)}]
\addplot[zl] coordinates {(1940,0) (2013.1,0)};
\addplot[syellow] coordinates {(1945,5.4) (1946,4.3) (1948,4.0) (1950,2.5) (1951,3.4) (1954,4.0) (1956,3.4) (1958,4.0) (1960,3.1) (1962,2.7) (1965,2.2) (1968,1.9) (1971,2.2) (1973,2.5) (1976,4.0) (1979,5.1) (1982,5.4) (1986,5.7) (1989,6.9) (1992,6.6) (1994,7.2) (1996,9.0) (1997,8.4) (1999,9.0) (2001,10.2) (2002,12.3) (2004,12.6) (2006,11.7) (2008,12.3) (2010,12.6) (2012,12.9)};
\addplot[sorange] coordinates {(1950,4.5) (1951,6.0) (1952,5.7) (1953,5.8) (1954,7.2) (1955,7.2) (1956,5.1) (1957,4.0) (1958,5.5) (1959,4.0) (1960,5.8) (1961,5.0) (1962,8.4) (1963,6.3) (1964,4.5) (1965,3.9) (1966,4.5) (1967,3.6) (1968,3.2) (1969,3.0) (1970,2.8) (1971,1.6) (1972,2.5) (1973,4.0) (1974,4.2) (1975,4.5) (1976,4.5) (1977,5.5) (1978,5.7) (1979,5.4) (1980,5.0) (1981,6.0) (1982,5.3) (1983,5.4) (1984,4.8) (1985,6.0) (1986,7.5) (1987,6.3) (1988,6.6) (1989,7.0) (1990,7.5) (1991,5.1) (1992,6.3) (1993,6.0) (1994,6.3) (1995,7.2) (1996,7.2) (1997,7.6) (1998,8.7) (1999,9.0) (2000,10.0) (2001,10.5) (2002,11.5) (2003,12.0) (2004,12.9) (2005,12.2) (2006,12.3) (2007,12.9) (2008,11.5) (2009,12.0) (2010,12.6) (2011,12.7) (2012,12.9)};
\addplot[sgreen] coordinates {(1950.4,-9.5) (1951.6,-7.4) (1953.2,-6.2) (1954.8,-3.2) (1956.3,0.4) (1958,2.2) (1959.5,0.7) (1961.1,0.1) (1962.7,-0.8) (1964.3,-1.4) (1965.9,-2.0) (1967.5,-2.6) (1969,-5.6) (1970.6,-4.4) (1972.2,-3.2) (1973.8,-2.6) (1975.4,-4.1) (1977,-3.2) (1978.6,-2.3) (1980.2,-0.8) (1981.7,-0.2) (1983.3,1.0) (1984.9,2.2) (1987.3,3.4) (1989.7,4.6) (1992,4.6) (1994.4,5.1) (1996,6.0) (1997.6,5.7) (1999.2,6.9) (2000.8,5.4) (2002.4,8.7) (2004,9.3) (2005.6,10.5) (2008,11.7) (2010.3,12.3) (2011.9,12.9)};
\addplot[black] coordinates {(1955.6,-0.8) (1957.1,-0.2) (1958.7,0.4) (1960.3,0.7) (1961.9,-0.5) (1963.5,-0.8) (1965.1,-1.4) (1966.7,-1.7) (1968.3,-3.2) (1969.8,-2.6) (1971.4,-2.0) (1973,-1.7) (1974.6,-0.2) (1976.2,1.0) (1977.8,1.3) (1979.4,2.2) (1981,2.2) (1982.5,1.6) (1984.1,1.3) (1985.7,2.8) (1987.3,3.4) (1988.9,4.0) (1990.5,2.8) (1992,3.7) (1993.7,4.6) (1995.2,5.1) (1996.8,5.7) (1998.4,6.3) (2000,6.9) (2001.6,9.3) (2003.2,10.5) (2004.8,11.1) (2006.3,11.7) (2008,12.0) (2010.3,12.3) (2011.9,12.6)};
\addplot[sblue] coordinates {(1950,-9.2) (1951,3.4) (1952,-6.2) (1953,-4.0) (1954,-2.0) (1955,-6.2) (1956,-6.8) (1957,1.0) (1958,1.2) (1959,-4.4) (1960,-1.0) (1961,2.8) (1962,3.4) (1963,3.0) (1964,4.3) (1965,2.2) (1966,0.8) (1967,-0.2) (1968,-1.5) (1969,-3.2) (1970,1.0) (1971,0.0) (1972,0.4) (1973,-3.0) (1974,-7.4) (1975,-3.2) (1976,-2.6) (1977,-2.6) (1978,0.4) (1979,1.5) (1980,2.2) (1981,3.4) (1982,-1.4) (1983,-1.4) (1984,-2.6) (1985,0.4) (1986,2.2) (1987,2.2) (1988,4.9) (1989,4.0) (1990,4.0) (1991,5.1) (1992,5.1) (1993,4.0) (1994,5.4) (1995,5.5) (1996,6.3) (1997,5.0) (1998,4.0) (1999,3.4) (2000,3.4) (2001,2.8) (2002,6.3) (2003,8.5) (2004,9.3) (2005,10.2) (2006,10.5) (2007,11.0) (2008,11.7) (2009,12.0) (2010,12.6) (2011,13.2) (2012,13.5)};
\node[ttl,anchor=north west] at (rel axis cs:0.0326,0.941) {Ocean heat content(0-700m):\\5 datasets};
\end{axis}

\begin{axis}[rightp, at={(429pt,-336pt)}, anchor=south west, height=111pt,
  ymin=-0.361, ymax=0.432, ytick={-0.2,0,0.2,0.4}, yticklabels={-0.2,0.0,0.2,0.4},
  minor ytick={-0.35,-0.3,...,0.42}, ylabel={Specific humidity\\anomaly (g/kg)}]
\addplot[zl] coordinates {(1940,0) (2013.1,0)};
\addplot[sgreen] coordinates {(1998,0.35) (1999.2,0.13) (2000.4,0.17) (2001.6,0.12) (2002.8,0.14) (2004,0.08) (2005.2,0.12) (2006.3,0.10) (2007.5,0.12) (2008.7,0.05) (2010.3,0.26) (2011.5,0.10)};
\addplot[sblue] coordinates {(1977,-0.08) (1978.2,-0.06) (1979.8,-0.06) (1981,-0.03) (1982.9,0.03) (1984.1,-0.16) (1985.3,-0.25) (1986.5,-0.16) (1987.7,0.00) (1988.9,-0.08) (1990.1,0.07) (1991.3,0.05) (1992.5,-0.14) (1993.7,-0.09) (1994.8,0.06) (1996,-0.06) (1998,0.43) (1999.2,0.10) (2000.4,0.11) (2001.6,0.09) (2004,0.08) (2006.3,0.10) (2008.7,0.04) (2010.3,0.25) (2011.5,0.10) (2012.3,0.10)};
\addplot[sred] coordinates {(1979.4,-0.03) (1981,-0.01) (1982.1,-0.06) (1983.3,-0.03) (1984.5,-0.16) (1985.7,-0.14) (1987.3,0.00) (1988.5,-0.09) (1990.1,0.08) (1991.3,0.06) (1992.5,-0.16) (1993.7,-0.08) (1995.2,0.08) (1996.4,0.00) (1998,0.24) (1999.2,0.06) (2000.4,0.04) (2001.6,0.09) (2002.8,0.04) (2004,0.03) (2005.2,0.06) (2006.3,0.04) (2007.5,0.09) (2008.3,-0.06) (2010.3,0.22) (2011.5,0.08) (2012.3,0.02)};
\addplot[black] coordinates {(1973,-0.08) (1974.2,-0.25) (1975.4,-0.19) (1976.2,-0.32) (1977.4,-0.13) (1978.6,-0.14) (1979.8,-0.12) (1981,-0.10) (1982.1,-0.06) (1983.3,-0.10) (1984.1,-0.19) (1985.3,-0.18) (1986.5,-0.15) (1987.7,-0.02) (1988.9,-0.08) (1990.1,0.09) (1991.3,0.08) (1992.5,-0.14) (1993.7,-0.08) (1994.8,0.08) (1996,0.00) (1996.8,-0.02) (1998,0.37) (1999.2,0.12) (2000.4,0.14) (2001.6,0.10) (2002.8,0.15) (2004,0.09) (2005.2,0.13) (2006.3,0.10) (2007.5,0.12) (2008.7,0.03) (2010.3,0.27) (2011.5,0.10) (2012.3,0.10)};
\node[ttl,anchor=north west] at (rel axis cs:0.0326,0.95) {Specific humidity:\\4 datasets};
\end{axis}

\begin{axis}[rightp, at={(429pt,-446.5pt)}, anchor=south west, height=110.5pt,
  ymin=-6.82, ymax=7.26, ytick={-6,-4,...,6}, yticklabels={-6,-4,-2,0,2,4,6},
  minor ytick={-5,-3,...,5}, ylabel={Extent anomaly (10\textsuperscript{6}km\textsuperscript{2})},
  ylabel style={at={(axis description cs:1.072,0.5)}}]
\addplot[zl] coordinates {(1940,0) (2013.1,0)};
\addplot[sblue] coordinates {(1940.5,1.34) (1942.1,1.44) (1943.3,-0.47) (1944.4,-0.47) (1945.6,0.28) (1947.2,-0.47) (1948.4,1.66) (1949.6,1.02) (1951.2,-0.79) (1952.4,2.93) (1953.2,-0.57) (1954.4,2.08) (1955.2,1.87) (1956.3,3.25) (1957.5,1.66) (1958.3,1.02) (1959.5,1.23) (1960.3,2.82) (1961.1,-1.63) (1962.3,-0.68) (1964.3,2.72) (1965.5,1.87) (1966.3,-0.57) (1967.5,-0.25) (1969,3.14) (1969.8,1.87) (1971,1.23) (1972.2,-1.63) (1973,0.81) (1974.2,0.17) (1974.6,0.59) (1975.4,-1.74) (1976.6,1.44) (1977.8,-1.74) (1979,0.59) (1980.2,-0.47) (1981.3,1.87) (1982.5,-1.95) (1983.3,1.02) (1984.5,-0.68) (1985.7,0.38) (1987.3,1.23) (1988.5,-1.74) (1989.7,1.23) (1990.5,-3.65) (1991.3,-1.95)};
\addplot[sred] coordinates {(1967.1,1.76) (1968.3,-3.23) (1969.8,1.66) (1971,1.44) (1972.2,-0.04) (1973.4,-0.25) (1974.6,0.17) (1975.4,-0.25) (1976.2,0.28) (1977.4,-0.47) (1978.6,1.02) (1979.4,2.93) (1980.2,1.97) (1981.3,1.97) (1982.5,-0.68) (1983.7,0.17) (1984.9,2.19) (1986.1,-0.68) (1987.3,1.23) (1988.1,-1.74) (1989.3,-1.95) (1990.5,-3.44) (1991.7,-1.95) (1992.5,-2.27) (1993.7,-1.95) (1995.2,-1.74) (1996.4,1.23) (1997.6,-1.10) (1998.4,-0.04) (1999.6,-1.53) (2000.8,-1.95) (2002,-1.74) (2002.8,-2.27) (2003.6,-0.25) (2004.4,-2.59) (2004.8,-0.25) (2006,-1.95) (2006.8,-1.74) (2008,-2.59) (2008.7,-2.80) (2009.9,-1.74) (2011.1,-1.53) (2011.9,-0.25) (2012.7,-1.74)};
\node[ttl,anchor=north west] at (rel axis cs:0.0456,0.95) {Northern hemisphere (March-\\April) snow cover: 2 datasets};
\end{axis}

\begin{axis}[rightp, at={(429pt,-558.5pt)}, anchor=south west, height=112pt,
  ymin=-15.5, ymax=10.8, ytick={-15,-10,...,10}, yticklabels={-15,-10,-5,0,5,10},
  minor ytick={-15,-14,...,10}, xticklabels={1940,1960,1980,2000},
  ylabel={Mass balance (10\textsuperscript{15}GT)},
  ylabel style={at={(axis description cs:1.078,0.5)}}]
\addplot[zl] coordinates {(1940,0) (2013.1,0)};
\addplot[sgray] coordinates {(1956.3,1.4) (1960.3,0.6) (1964.3,0.0) (1968.3,-0.6) (1976.2,-1.6) (1984.1,-3.9) (1992.1,-5.1) (1996,-5.7) (2000,-6.9) (2004,-8.0) (2007.9,-9.2) (2009.9,-10.0)};
\addplot[sblue] coordinates {(1940,8.3) (1944.4,6.9) (1948.4,5.7) (1952.4,4.7) (1954.4,3.7) (1956.3,3.1) (1958.7,2.0) (1961.1,0.6) (1963.5,0.0) (1968.3,-0.4) (1972.2,-1.0) (1976.2,-1.6) (1980.2,-2.7) (1984.1,-3.7) (1988.1,-4.5) (1992.1,-5.3) (1996,-6.1) (2000,-7.1) (2004,-8.2) (2007.9,-9.2) (2009.9,-10.0)};
\addplot[sgreen] coordinates {(1940,2.7) (1944.4,2.2) (1948.4,1.6) (1952.4,1.1) (1956.3,0.6) (1960.3,0.3) (1964.3,-0.2) (1968.3,-0.4) (1972.2,-0.8) (1976.2,-1.2) (1980.2,-2.4) (1984.1,-3.3) (1988.1,-3.7) (1992.1,-4.3) (1996,-5.1) (2000,-5.7) (2005.2,-6.2)};
\node[ttl,anchor=north west] at (rel axis cs:0.26,0.9375) {Glacier mass balance:\\3 datasets};
\end{axis}

\node[font=\calibri\bfseries\fontsize{18.5}{22}\selectfont, text=srcblue] at (145pt,-536.5pt) {Source: IPCC, 2013};
\end{tikzpicture}
\end{document}
